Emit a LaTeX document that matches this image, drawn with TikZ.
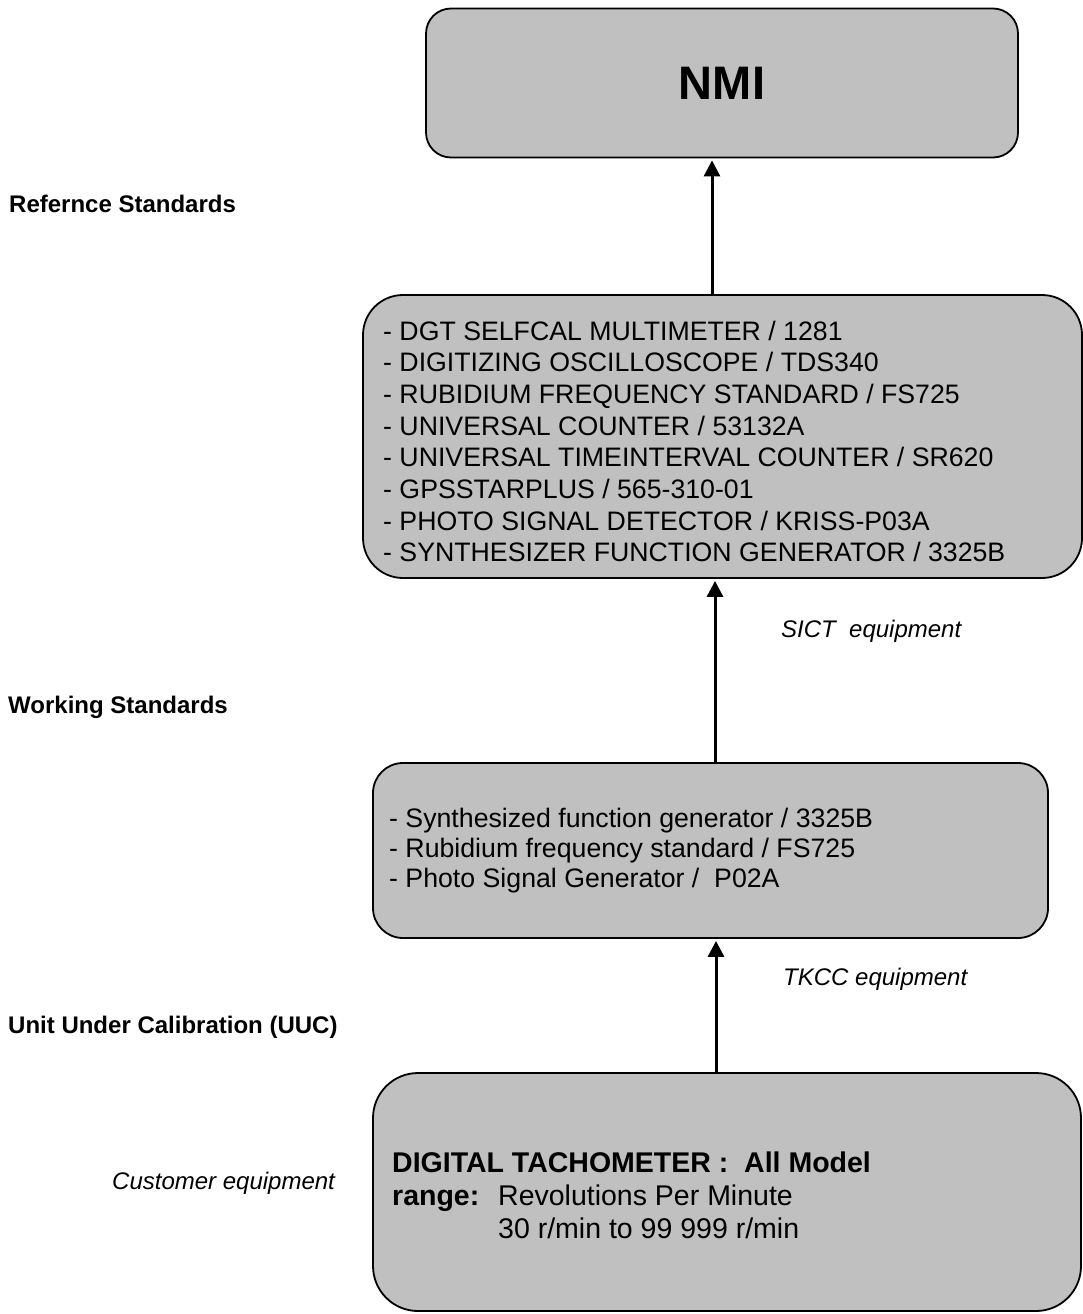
\documentclass[tikz,border=0pt]{standalone}
\usepackage{fontspec}
\setmainfont{Liberation Sans}
\usetikzlibrary{arrows.meta}
\definecolor{boxgray}{RGB}{192,192,192}
\tikzset{
  box/.style={draw=black, line width=1.8pt, fill=boxgray, rounded corners=#1, inner sep=0pt},
  link/.style={line width=3pt, -{Triangle[width=16pt,length=16pt]}, shorten >=2pt},
  itemtxt/.style={anchor=base west, inner sep=0pt, font=\fontsize{26.7}{31.7}\selectfont},
  uuctxt/.style={anchor=base west, inner sep=0pt, font=\fontsize{28.5}{33}\selectfont},
  sidelabel/.style={anchor=base west, inner sep=0pt, font=\fontsize{24}{28}\selectfont\bfseries},
  eqlabel/.style={anchor=base west, inner sep=0pt, font=\fontsize{24}{28}\selectfont\itshape},
}
\begin{document}
\begin{tikzpicture}[x=1pt,y=-1pt]
  \useasboundingbox (0,0) rectangle (1083,1314);
  %% boxes
  \node[box=25pt, minimum width=592pt, minimum height=149pt,
        font=\fontsize{47}{50}\selectfont\bfseries] (nmi) at (722,83) {NMI};
  \node[box=40pt, minimum width=719pt, minimum height=283pt] (refbox) at (722.5,436.5) {};
  \node[box=30pt, minimum width=675pt, minimum height=175pt] (wrkbox) at (710.5,850.5) {};
  \node[box=45pt, minimum width=708pt, minimum height=238pt] (uucbox) at (727,1192) {};
  %% reference standards
  \foreach \txt [count=\i from 0] in {DGT SELFCAL MULTIMETER / 1281,
      DIGITIZING OSCILLOSCOPE / TDS340, RUBIDIUM FREQUENCY STANDARD / FS725,
      UNIVERSAL COUNTER / 53132A, UNIVERSAL TIMEINTERVAL COUNTER / SR620,
      GPSSTARPLUS / 565-310-01, PHOTO SIGNAL DETECTOR / KRISS-P03A,
      SYNTHESIZER FUNCTION GENERATOR / 3325B}
    \node[itemtxt] (ref\i) at (383,340+31.7*\i) {- \txt};
  %% working standards
  \foreach \txt [count=\i from 0] in {Synthesized function generator / 3325B,
      Rubidium frequency standard / FS725, Photo Signal Generator /\ \ P02A}
    \node[itemtxt] (wrk\i) at (389,827+30*\i) {- \txt};
  %% unit under calibration
  \node[uuctxt, font=\fontsize{28.5}{33}\selectfont\bfseries] (uuc0) at (392,1172)
    {DIGITAL TACHOMETER :\ \ All Model};
  \node[uuctxt, font=\fontsize{28.5}{33}\selectfont\bfseries] (uuc1) at (392,1205) {range:};
  \node[uuctxt] (uuc2) at (498,1205) {Revolutions Per Minute};
  \node[uuctxt] (uuc3) at (498,1238) {30 r/min to 99 999 r/min};
  %% side labels
  \node[sidelabel] (lref) at (9,212) {Refernce Standards};
  \node[sidelabel] (lwrk) at (8,713) {Working Standards};
  \node[sidelabel] (luuc) at (8,1033) {Unit Under Calibration (UUC)};
  \node[eqlabel] (lcust) at (112,1189) {Customer equipment};
  \node[eqlabel] (lsict) at (781,637) {SICT\ \ equipment};
  \node[eqlabel] (ltkcc) at (783,985) {TKCC equipment};
  %% arrows
  \coordinate (a1) at (712,0);
  \coordinate (a2) at (715,0);
  \coordinate (a3) at (716,0);
  \draw[link] (refbox.north -| a1) -- (nmi.south -| a1);
  \draw[link] (wrkbox.north -| a2) -- (refbox.south -| a2);
  \draw[link] (uucbox.north -| a3) -- (wrkbox.south -| a3);
\end{tikzpicture}
\end{document}
